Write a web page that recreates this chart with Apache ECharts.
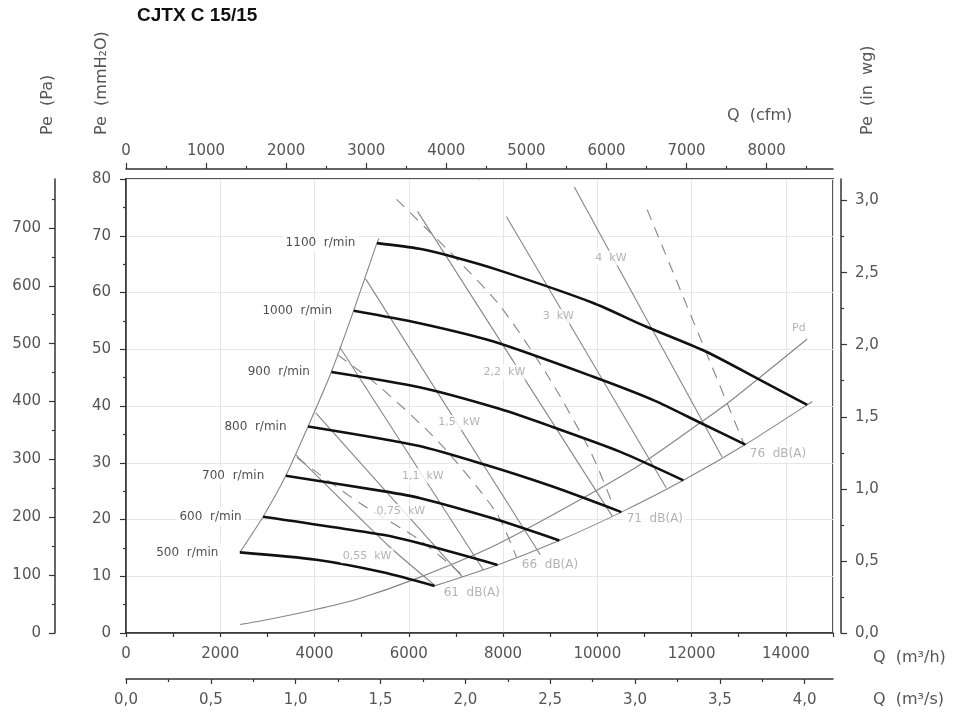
<!DOCTYPE html>
<html><head><meta charset="utf-8">
<script src="https://cdn.jsdelivr.net/npm/echarts@6/dist/echarts.min.js"></script>
<style>html,body{margin:0;padding:0;background:#fff}#c{width:960px;height:716px}</style>
</head><body><div id="c"></div>
<script>
// ---- data: [Q m3/h, Pe mmH2O] ----
const rpmLabels = ['500  r/min','600  r/min','700  r/min','800  r/min','900  r/min','1000  r/min','1100  r/min'];
const rpm500  = [[2415,14.2],[4039,12.9],[5450,10.7],[6545,8.3]];
const rpm600  = [[2909,20.5],[5450,17.3],[6227,15.8],[7883,12.0]];
const rpm700  = [[3389,27.7],[5450,25.0],[6227,23.8],[7780,20.2],[9193,16.3]];
const rpm800  = [[3862,36.4],[6200,33.0],[7640,29.6],[9051,25.8],[10511,21.3]];
const rpm900  = [[4357,46.0],[6227,43.3],[7922,39.5],[9051,36.3],[10464,32.0],[11825,26.9]];
const rpm1000 = [[4830,56.8],[6227,54.6],[7780,51.4],[9899,45.2],[11200,41.0],[12194,37.0],[13139,33.2]];
const rpm1100 = [[5323,68.7],[6227,67.7],[6933,66.3],[7922,63.9],[9899,58.2],[11029,54.0],[12300,49.6],[13429,44.7],[14453,40.2]];
const rpmCurves = [rpm500, rpm600, rpm700, rpm800, rpm900, rpm1000, rpm1100];

const leftLimit  = [[2415,14.2],[2909,20.5],[3389,27.7],[3862,36.4],[4357,46.0],[4830,56.8],[5323,68.7],[5370,69.5]];
const rightLimit = [[6545,8.3],[7883,12.0],[9193,16.3],[10511,21.3],[11825,26.9],[13139,33.2],[14453,40.2],[14560,40.8]];
const pdCurve    = [[2415,1.5],[2908,2.2],[4003,4.1],[4887,5.9],[6227,9.8],[7922,15.8],[10746,28.8],[12228,37.3],[12857,41.1],[14453,51.8]];

// iso-power lines (solid) and dashed lines
const kw055 = [[3601,31.4],[5592,15.2],[6566,8.3]];
const kw075 = [[4025,38.8],[7138,9.9]];
const kw110 = [[4533,50.4],[7583,11.1]];
const kw150 = [[5084,62.4],[8790,13.8]];
const kw220 = [[6185,74.3],[10316,20.6]];
const kw300 = [[8070,73.4],[11459,25.6]];
const kw400 = [[9511,78.6],[12646,31.0]];
const dashedA = [[3622,30.9],[4957,22.9],[6227,16.4],[7138,10.2]];
const dashedB = [[4491,49.0],[5380,43.4],[6651,33.5],[7858,21.2],[8282,13.4]];
const dashedC = [[5740,76.4],[6863,67.2],[7922,57.8],[8981,44.9],[9871,31.7],[10316,22.9]];
const dashedD = [[11057,74.6],[13112,33.3]];
const solidLines  = [kw055, kw075, kw110, kw150, kw220, kw300, kw400];
const dashedLines = [dashedA, dashedB, dashedC, dashedD];

const kwLabels = ['0,55  kW','0,75  kW','1,1  kW','1,5  kW','2,2  kW','3  kW','4  kW'];
const kwPos    = [[5115,13.6],[5831,21.4],[6298,27.7],[7068,37.1],[8028,46.0],[9172,55.8],[10288,66.1]];
const dbLabels = ['61  dB(A)','66  dB(A)','71  dB(A)','76  dB(A)'];
const dbPos    = [[6687,7.1],[8346,12.0],[10570,20.05],[13182,31.5]];
const pdLabel  = 'Pd';
const pdPos    = [14277,53.8];

// ---- tick labels ----
const m3sTicks  = [0,0.5,1,1.5,2,2.5,3,3.5,4];
const m3sMinor  = [0.25,0.75,1.25,1.75,2.25,2.75,3.25,3.75];
const cfmTicks  = [0,1000,2000,3000,4000,5000,6000,7000,8000];
const cfmMinor  = [500,1500,2500,3500,4500,5500,6500,7500,8500];
const paTicks   = [0,100,200,300,400,500,600,700];
const paMinor   = [50,150,250,350,450,550,650,750];
const inwgTicks = [0,0.5,1,1.5,2,2.5,3];
const inwgMinor = [0.25,0.75,1.25,1.75,2.25,2.75];

// unit conversions
const QMAX = 15000, PMAX = 80;
const M3H_PER_CFM = 1.69901, M3H_PER_M3S = 3600, PA_PER_MMH2O = 9.80665, MMH2O_PER_INWG = 25.4;

const AX = '#333', LBL = '#555', GRID = '#e6e6e6', THIN = '#858585';
const FONT = 'DejaVu Sans';
const comma = v => v.toFixed(1).replace('.', ',');
const lblStyle = {color: LBL, fontFamily: FONT, fontSize: 15};

function majorAxis(extra) {
  return Object.assign({type:'value', gridIndex:0,
    axisLine:{show:true, onZero:false, lineStyle:{color:AX, width:1.5}},
    axisTick:{show:true, length:6, lineStyle:{color:AX, width:1.2}},
    splitLine:{show:false}}, extra);
}
function minorAxis(extra) {
  return Object.assign({type:'value', gridIndex:0,
    axisLine:{show:false, onZero:false},
    axisTick:{show:true, length:3, lineStyle:{color:AX, width:1.2}},
    axisLabel:{show:false}, splitLine:{show:false}}, extra);
}

const xAxis = [
  majorAxis({position:'bottom', min:0, max:QMAX, interval:1000,
    axisTick:{show:true, length:4, lineStyle:{color:AX, width:1.2}},
    axisLabel:Object.assign({margin:14, formatter: v => (v % 2000 === 0 && v < QMAX) ? String(v) : ''}, lblStyle)}),
  {type:'value', gridIndex:0, position:'bottom', min:0, max:QMAX, interval:2000,
    axisLine:{show:false}, axisTick:{show:false}, axisLabel:{show:false},
    splitLine:{show:true, lineStyle:{color:GRID, width:1}}},
  majorAxis({position:'bottom', offset:46, min:0, max:QMAX / M3H_PER_M3S, interval:0.5,
    axisTick:{show:true, length:5, customValues:m3sTicks, lineStyle:{color:AX, width:1.2}},
    axisLabel:Object.assign({margin:14, customValues:m3sTicks, formatter: comma}, lblStyle)}),
  minorAxis({position:'bottom', offset:46, min:0, max:QMAX / M3H_PER_M3S, interval:0.25,
    axisTick:{show:true, length:3, customValues:m3sMinor, lineStyle:{color:AX, width:1.2}}}),
  majorAxis({position:'top', offset:10, min:0, max:QMAX / M3H_PER_CFM, interval:1000,
    axisTick:{show:true, length:6, customValues:cfmTicks, lineStyle:{color:AX, width:1.2}},
    axisLabel:Object.assign({margin:10, customValues:cfmTicks, formatter: v => String(v)}, lblStyle)}),
  minorAxis({position:'top', offset:10, min:0, max:QMAX / M3H_PER_CFM, interval:500,
    axisTick:{show:true, length:3, customValues:cfmMinor, lineStyle:{color:AX, width:1.2}}})
];

const yAxis = [
  majorAxis({position:'left', min:0, max:PMAX, interval:10,
    minorTick:{show:true, splitNumber:2, length:3, lineStyle:{color:AX, width:1.2}},
    axisLabel:Object.assign({margin:15}, lblStyle),
    splitLine:{show:true, lineStyle:{color:GRID, width:1}}}),
  majorAxis({position:'left', offset:71, min:0, max:PMAX * PA_PER_MMH2O, interval:100,
    axisTick:{show:true, length:6, customValues:paTicks, lineStyle:{color:AX, width:1.2}},
    axisLabel:Object.assign({margin:14, customValues:paTicks, formatter: v => String(v)}, lblStyle)}),
  minorAxis({position:'left', offset:71, min:0, max:PMAX * PA_PER_MMH2O, interval:50,
    axisTick:{show:true, length:3, customValues:paMinor, lineStyle:{color:AX, width:1.2}}}),
  majorAxis({position:'right', offset:8, min:0, max:PMAX / MMH2O_PER_INWG, interval:0.5,
    axisTick:{show:true, length:6, customValues:inwgTicks, lineStyle:{color:AX, width:1.2}},
    axisLabel:Object.assign({margin:14, customValues:inwgTicks, formatter: comma}, lblStyle)}),
  minorAxis({position:'right', offset:8, min:0, max:PMAX / MMH2O_PER_INWG, interval:0.25,
    axisTick:{show:true, length:3, customValues:inwgMinor, lineStyle:{color:AX, width:1.2}}})
];

const series = [];
function thinLine(data, dashed, smooth) {
  series.push({type:'line', xAxisIndex:0, yAxisIndex:0, data: data, showSymbol:false, symbol:'none',
    smooth: smooth, silent:true, z:2,
    lineStyle:{color:THIN, width:1.1, type: dashed ? [11,8] : 'solid'}});
}
thinLine(pdCurve, false, 0.25);
thinLine(leftLimit, false, 0.2);
thinLine(rightLimit, false, 0.2);
solidLines.forEach(d => thinLine(d, false, 0.2));
dashedLines.forEach(d => thinLine(d, true, 0.25));
rpmCurves.forEach(d => series.push({type:'line', xAxisIndex:0, yAxisIndex:0, data:d, showSymbol:false,
  symbol:'none', smooth:0.25, silent:true, z:3, lineStyle:{color:'#111', width:2.6}}));

function labelSeries(items, label) {
  series.push({type:'scatter', xAxisIndex:0, yAxisIndex:0, symbolSize:1, z:6, silent:true,
    itemStyle:{color:'rgba(0,0,0,0)'}, data: items,
    label: Object.assign({show:true, formatter:'{b}', fontFamily:FONT}, label)});
}
labelSeries(rpmCurves.map((c, i) => ({name: rpmLabels[i], value: c[0]})),
  {position:'left', distance:18, color:'#222', fontSize:12, backgroundColor:'#fff', padding:[3,3]});
labelSeries(kwPos.map((p, i) => ({name: kwLabels[i], value: p})),
  {position:'inside', color:'#a0a0a0', fontSize:11, backgroundColor:'#fff', padding:[2,2]});
labelSeries(dbPos.map((p, i) => ({name: dbLabels[i], value: p})),
  {position:'right', distance:0, color:'#a0a0a0', fontSize:12, backgroundColor:'#fff', padding:[2,2]});
labelSeries([{name: pdLabel, value: pdPos}],
  {position:'inside', color:'#a0a0a0', fontSize:11});

const tStyle = {fill: LBL, font: '16px "DejaVu Sans"', textVerticalAlign:'middle', textAlign:'left'};
const graphic = [
  {type:'text', x:137, y:16, style:{text:'CJTX C 15/15', fill:'#111', font:'bold 19px "Liberation Sans"', textVerticalAlign:'middle'}},
  {type:'text', x:48, y:135, rotation:Math.PI/2, style:Object.assign({text:'Pe  (Pa)'}, tStyle)},
  {type:'text', x:102, y:135, rotation:Math.PI/2, style:Object.assign({text:'Pe  (mmH\u2082O)'}, tStyle)},
  {type:'text', x:868, y:135, rotation:Math.PI/2, style:Object.assign({text:'Pe  (in  wg)'}, tStyle)},
  {type:'text', x:727, y:116, style:Object.assign({text:'Q  (cfm)'}, tStyle)},
  {type:'text', x:873, y:658, style:Object.assign({text:'Q  (m\u00b3/h)'}, tStyle)},
  {type:'text', x:873, y:700, style:Object.assign({text:'Q  (m\u00b3/s)'}, tStyle)}
];

const chart = echarts.init(document.getElementById('c'));
chart.setOption({
  animation:false,
  backgroundColor:'#fff',
  grid:{left:126, right:127, top:179, bottom:83, show:true, borderColor:'#555', borderWidth:2, containLabel:false},
  xAxis: xAxis,
  yAxis: yAxis,
  series: series,
  graphic: graphic
});
</script>
</body></html>
